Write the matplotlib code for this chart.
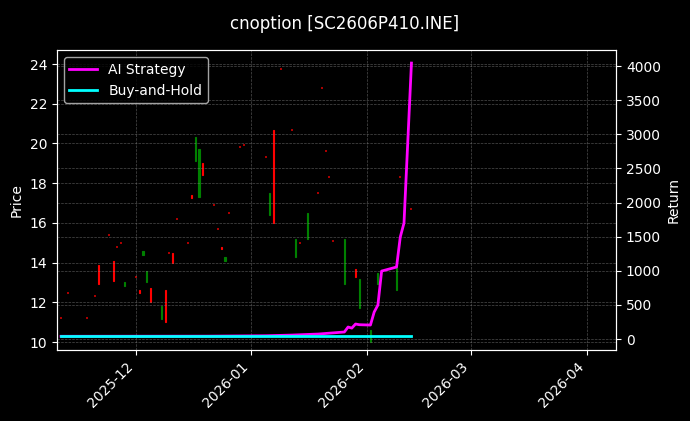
import matplotlib
matplotlib.use("Agg")
import matplotlib.pyplot as plt
import matplotlib.dates as mdates
import pandas as pd

plt.style.use("dark_background")

# candles: date, open, close
c_dates = ["2025-11-21","2025-11-25","2025-11-28","2025-12-02","2025-12-03","2025-12-04","2025-12-05",
           "2025-12-08","2025-12-09","2025-12-11","2025-12-16","2025-12-17","2025-12-18","2025-12-19",
           "2025-12-24","2025-12-25","2026-01-06","2026-01-07","2026-01-13","2026-01-16","2026-01-26",
           "2026-01-29","2026-01-30","2026-02-02","2026-02-04","2026-02-09"]
c_open  = [13.9,14.1,12.8,12.6,14.4,13.0,12.7,11.15,12.6,14.5,17.4,19.1,17.3,19.0,14.8,14.1,16.4,20.7,14.3,15.2,12.9,13.7,11.7,10.0,12.9,12.6]
c_close = [12.9,13.1,13.0,12.45,14.6,13.6,12.0,11.8,11.0,14.0,17.25,20.3,19.7,18.4,14.7,14.3,17.5,16.0,15.2,16.5,15.2,13.3,13.2,10.6,13.5,13.8]
# flat (no-trade) days
d_dates = ["2025-11-11","2025-11-13","2025-11-18","2025-11-20","2025-11-24","2025-11-26","2025-11-27",
           "2025-12-01","2025-12-10","2025-12-12","2025-12-15","2025-12-22","2025-12-23","2025-12-26",
           "2025-12-29","2025-12-30","2026-01-05","2026-01-09","2026-01-12","2026-01-14","2026-01-19",
           "2026-01-20","2026-01-21","2026-01-22","2026-01-23","2026-02-10","2026-02-13"]
d_price = [11.2,12.45,11.2,12.3,15.4,14.8,15.0,13.3,14.5,16.2,15.0,16.9,15.7,16.5,19.8,19.9,19.3,23.75,20.7,15.0,17.5,
           22.8,19.6,18.3,15.1,18.3,16.7]

# strategy returns
s_dates = ["2025-11-11","2025-12-20","2026-01-05","2026-01-12","2026-01-19","2026-01-26","2026-01-27","2026-01-28",
           "2026-01-29","2026-01-30","2026-02-02","2026-02-03","2026-02-04","2026-02-05","2026-02-09",
           "2026-02-10","2026-02-11","2026-02-13"]
s_ret = [40,42,48,58,73,103,176,160,220,210,205,395,498,996,1055,1494,1700,4044]
bh_dates = ["2025-11-11","2026-02-13"]
bh_ret = [40,40]

fig = plt.figure(figsize=(6.9,4.21), dpi=100)
ax = fig.add_axes([0.0826,0.1686,0.8104,0.7124])
ax2 = ax.twinx()

cd = pd.to_datetime(c_dates)
for d,o,c in zip(cd,c_open,c_close):
    col = "green" if c>=o else "red"
    ax.bar(d, abs(c-o), bottom=min(o,c), width=0.3, color=col, edgecolor=col, linewidth=0.8)
ax.scatter(pd.to_datetime(d_dates), d_price, s=1.5, color="#aa0000", marker="s", linewidths=0)

ax2.plot(pd.to_datetime(s_dates), s_ret, color="magenta", lw=2, label="AI Strategy")
ax2.plot(pd.to_datetime(bh_dates), bh_ret, color="cyan", lw=2, label="Buy-and-Hold")

ax.set_xlim(pd.Timestamp("2025-11-09 22:00"), pd.Timestamp("2026-04-08 22:00"))
ax.set_ylim(9.6,24.7)
ax2.set_ylim(-161,4234)
ax.set_ylabel("Price")
ax2.set_ylabel("Return")
ax.xaxis.set_major_locator(mdates.MonthLocator())
ax.xaxis.set_major_formatter(mdates.DateFormatter("%Y-%m"))
for lab in ax.get_xticklabels():
    lab.set_rotation(45); lab.set_ha("right")
ax.grid(True, color="gray", ls="--", lw=0.5, alpha=0.6)
ax2.grid(True, color="gray", ls="--", lw=0.5, alpha=0.6)
ax2.legend(loc="upper left")
fig.suptitle("cnoption [SC2606P410.INE]", y=0.965)
fig.savefig("out.png", dpi=100)
